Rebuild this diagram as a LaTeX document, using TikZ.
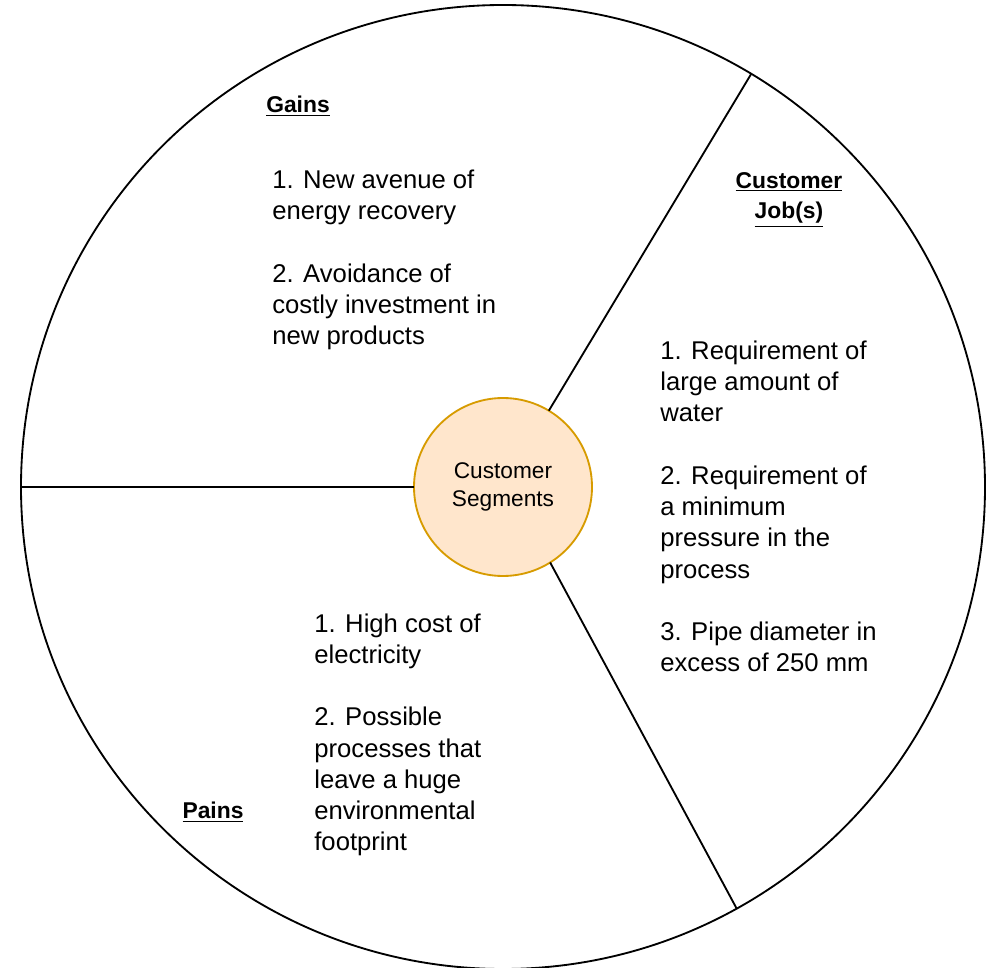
\documentclass[tikz,border=0pt]{standalone}
\usepackage{fontspec}
\setmainfont{Liberation Sans}
\usepackage{xcolor}
\usepackage{tikz}
\usetikzlibrary{positioning, calc}
\definecolor{segfill}{HTML}{FFE6CC}
\definecolor{segdraw}{HTML}{D79B00}

\begin{document}
\begin{tikzpicture}[x=1cm, y=1cm]
\useasboundingbox (0,0) rectangle (19.82,19.36);
\tikzset{
  sector/.style={font=\fontsize{14.6}{17.8}\selectfont, align=left, inner sep=0pt},
  heading/.style={font=\fontsize{13}{17.6}\selectfont\bfseries, align=center, inner sep=0pt},
  divider/.style={black, line width=1.05pt}
}
\node[circle, draw=black, line width=1.05pt, minimum size=19.28cm, outer sep=0pt, inner sep=0pt]
  (wheel) at (10.06,9.62) {};
\node[circle, fill=segfill, draw=segdraw, line width=1.05pt, minimum size=3.56cm, outer sep=0pt,
  inner sep=0pt, align=center, font=\fontsize{12.9}{15.9}\selectfont]
  (seg) at (10.06,9.62) {Customer\\Segments};
\draw[divider] (seg.180) -- (wheel.180);
\draw[divider] (seg.59.3) -- (wheel.59.4);
\draw[divider] (seg.-58.4) -- (wheel.-61.2);
% gains
\node[heading, anchor=base] (gainshead) at (5.96,17.10) {\underline{Gains}};
\node[sector, anchor=base west] (gains) at (5.44,12.46)
  {1. New avenue of\\energy recovery\\[17.8pt]2. Avoidance of\\costly investment in\\new products};
% customer jobs
\node[heading, anchor=base] (jobshead) at (15.78,14.98) {\underline{Customer}\\\underline{Job(s)}};
\node[sector, anchor=base west] (jobs) at (13.20,5.92)
  {1. Requirement of\\large amount of\\water\\[17.8pt]2. Requirement of\\a minimum\\pressure in the\\process\\[17.8pt]3. Pipe diameter in\\excess of 250 mm};
% pains
\node[heading, anchor=base] (painshead) at (4.26,2.98) {\underline{Pains}};
\node[sector, anchor=base west] (pains) at (6.28,2.34)
  {1. High cost of\\electricity\\[17.8pt]2. Possible\\processes that\\leave a huge\\environmental\\footprint};
\end{tikzpicture}
\end{document}
